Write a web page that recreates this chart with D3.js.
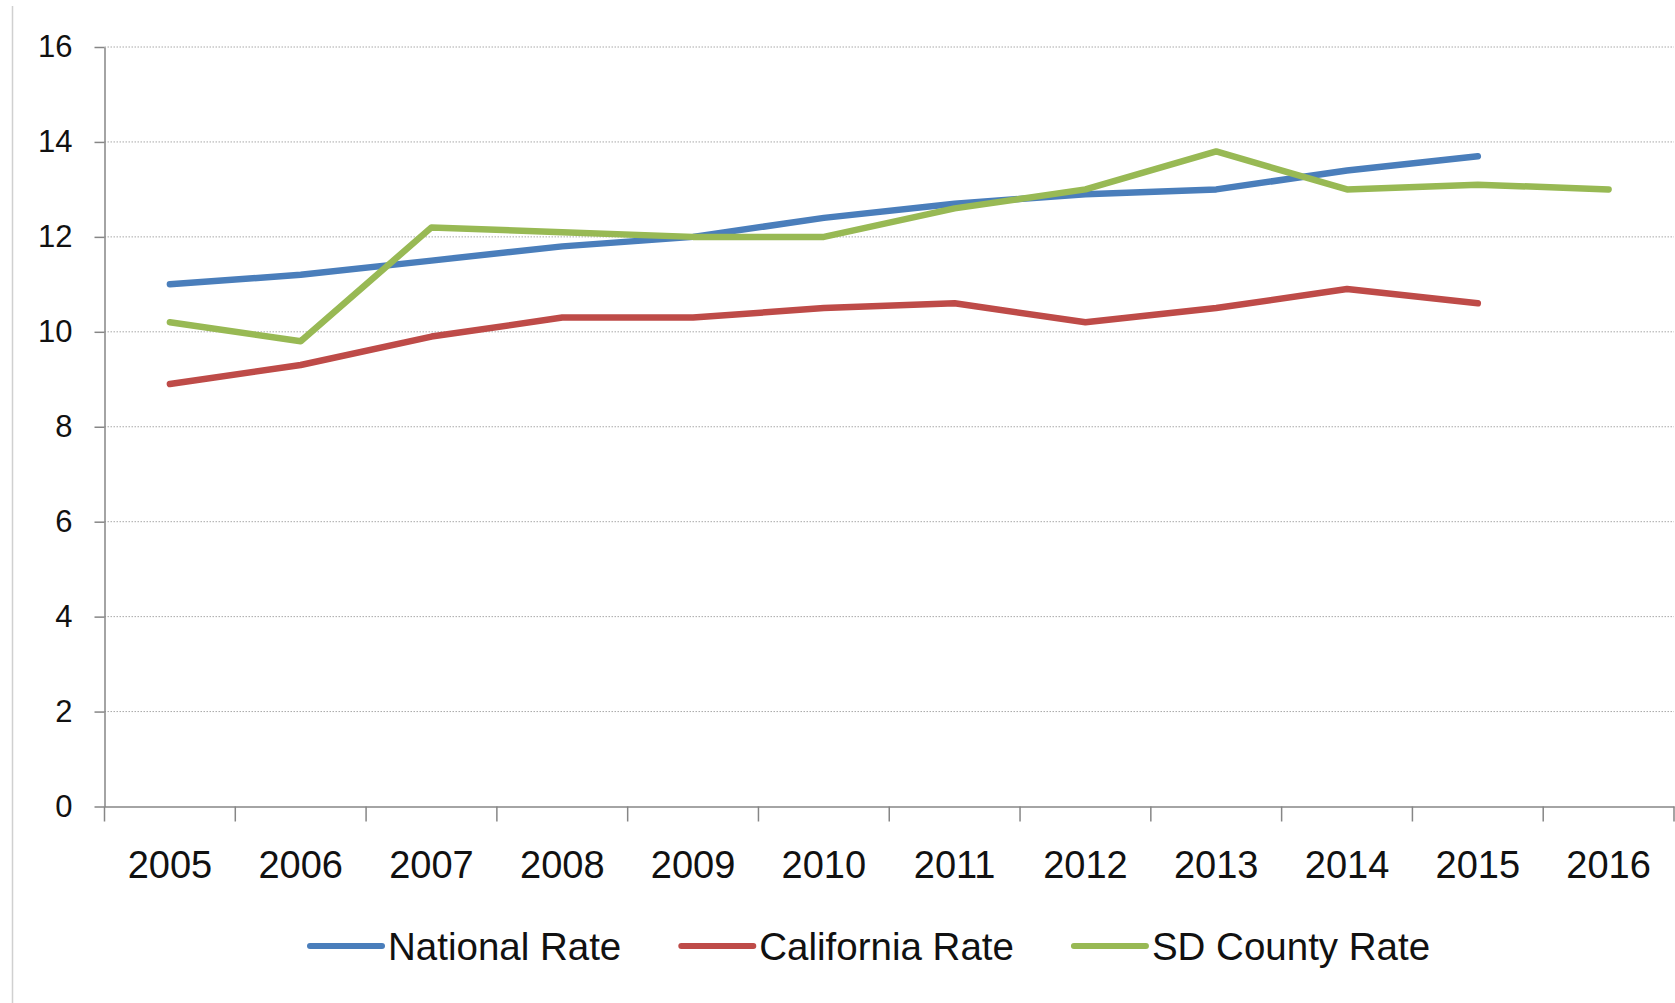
<!DOCTYPE html>
<html>
<head>
<meta charset="utf-8">
<script src="https://cdn.jsdelivr.net/npm/d3@7"></script>
<style>
  body { margin: 0; background: #fff; }
  svg { display: block; font-family: "Liberation Sans", Arial, sans-serif; }
  .grid line { stroke: #a8a8a8; stroke-width: 1; stroke-dasharray: 1.5,1.5; }
  .axis path, .axis line { stroke: #868686; stroke-width: 1.5; }
  .axis text { fill: #111; }
</style>
</head>
<body>
<svg class="chart"></svg>
<script>
var years = ['2005', '2006', '2007', '2008', '2009', '2010', '2011', '2012', '2013', '2014', '2015', '2016'];
var nationalRate = [11.0, 11.2, 11.5, 11.8, 12.0, 12.4, 12.7, 12.9, 13.0, 13.4, 13.7, null];
var californiaRate = [8.9, 9.3, 9.9, 10.3, 10.3, 10.5, 10.6, 10.2, 10.5, 10.9, 10.6, null];
var sdCountyRate = [10.2, 9.8, 12.2, 12.1, 12.0, 12.0, 12.6, 13.0, 13.8, 13.0, 13.1, 13.0];
var yTicks = [0, 2, 4, 6, 8, 10, 12, 14, 16];
var seriesNames = ['National Rate', 'California Rate', 'SD County Rate'];
var seriesColors = ['#4A7EBB', '#BE4B48', '#98B954'];

var W = 1675, H = 1003;
var margin = { top: 47, right: 1, bottom: 196.5, left: 104.5 };
var width = W - margin.left - margin.right;
var height = H - margin.top - margin.bottom;

var svg = d3.select('.chart')
  .attr('width', W)
  .attr('height', H);

// faint frame edge on the left
svg.append('line')
  .attr('x1', 12.5).attr('x2', 12.5)
  .attr('y1', 6).attr('y2', H)
  .attr('stroke', '#d0d0d0')
  .attr('stroke-width', 1.5);

var chart = svg.append('g')
  .attr('transform', 'translate(' + margin.left + ',' + margin.top + ')');

var x = d3.scaleBand().domain(years).range([0, width]).padding(0);
var y = d3.scaleLinear().domain([0, 16]).range([height, 0]);

// gridlines
chart.append('g')
  .attr('class', 'grid')
  .selectAll('line')
  .data(yTicks.filter(d => d > 0))
  .enter().append('line')
  .attr('x1', 0).attr('x2', width)
  .attr('y1', d => y(d)).attr('y2', d => y(d));

// y axis
var yAxis = d3.axisLeft(y).tickValues(yTicks).tickSize(10).tickPadding(22).tickSizeOuter(0);
chart.append('g')
  .attr('class', 'y axis')
  .call(yAxis)
  .call(g => g.selectAll('text').style('font-size', '31px'));

// x axis: labels centred in bands, ticks on band edges
var xAxis = d3.axisBottom(x).tickSize(0).tickSizeOuter(0);
var gx = chart.append('g')
  .attr('class', 'x axis')
  .attr('transform', 'translate(0,' + height + ')')
  .call(xAxis);
gx.selectAll('text')
  .attr('y', 71)
  .attr('dy', null)
  .style('font-size', '38px');
gx.selectAll('.edge')
  .data(years.map(d => x(d)).concat([x.range()[1]]))
  .enter().append('line')
  .attr('class', 'edge')
  .attr('x1', d => d).attr('x2', d => d)
  .attr('y1', 0).attr('y2', 15);

// lines
var allSeries = [nationalRate, californiaRate, sdCountyRate];
var line = d3.line()
  .defined(d => d.v != null)
  .x(d => x(d.year) + x.bandwidth() / 2)
  .y(d => y(d.v));

allSeries.forEach((vals, i) => {
  chart.append('path')
    .datum(years.map((yr, j) => ({ year: yr, v: vals[j] })))
    .attr('fill', 'none')
    .attr('stroke', seriesColors[i])
    .attr('stroke-width', 6.5)
    .attr('stroke-linejoin', 'round')
    .attr('stroke-linecap', 'round')
    .attr('d', line);
});

// legend
var legend = svg.append('g').attr('transform', 'translate(310,946)');
var lx = 0;
seriesNames.forEach((name, i) => {
  legend.append('line')
    .attr('x1', lx).attr('x2', lx + 72)
    .attr('y1', 0).attr('y2', 0)
    .attr('stroke', seriesColors[i])
    .attr('stroke-width', 6)
    .attr('stroke-linecap', 'round');
  var t = legend.append('text')
    .attr('x', lx + 78)
    .attr('y', 0)
    .attr('dy', '0.36em')
    .style('font-size', '38.5px')
    .attr('fill', '#111')
    .text(name);
  lx += 78 + t.node().getComputedTextLength() + 60;
});
</script>
</body>
</html>
